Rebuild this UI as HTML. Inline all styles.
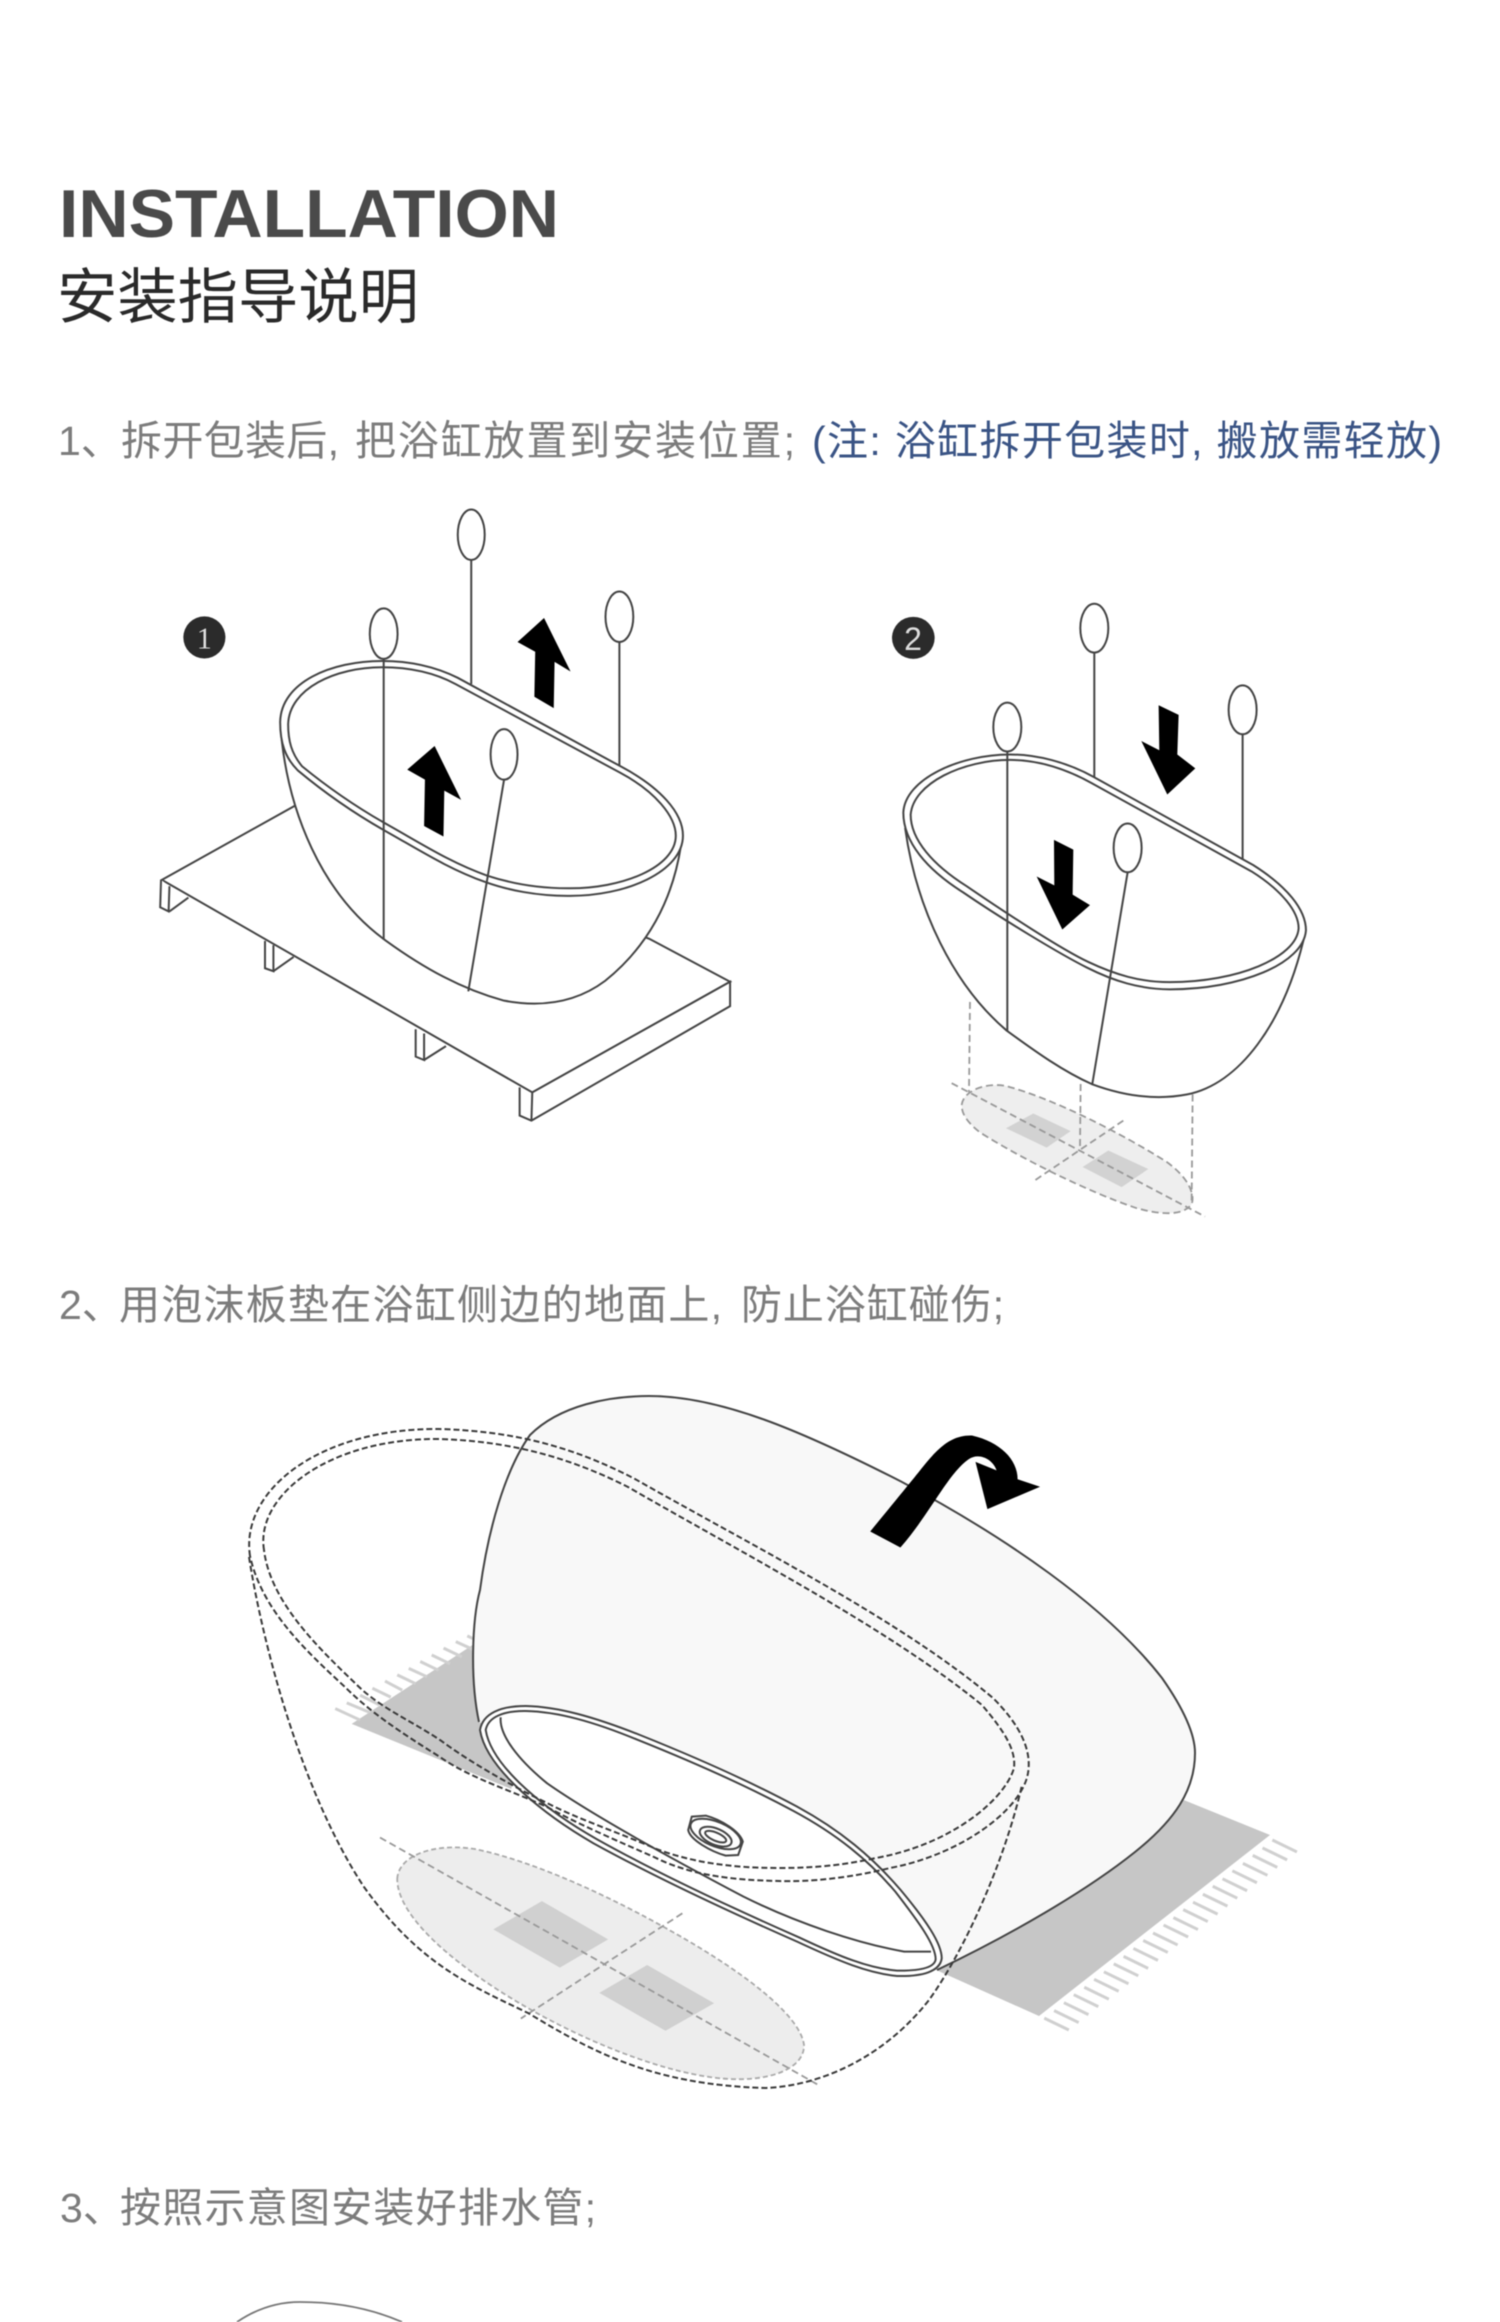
<!DOCTYPE html>
<html><head><meta charset="utf-8">
<style>
html,body{margin:0;padding:0;background:#fff;width:1500px;height:2322px;overflow:hidden}
svg{display:block;filter:blur(.45px)}
text{font-family:"Liberation Sans","Noto Sans CJK SC",sans-serif}
.s{fill:none;stroke:#444;stroke-width:2;vector-effect:non-scaling-stroke}
.w{fill:#fff;stroke:#444;stroke-width:2;vector-effect:non-scaling-stroke}
.d{fill:none;stroke:#3a3a3a;stroke-width:2;stroke-dasharray:6 3;vector-effect:non-scaling-stroke}
.g{fill:none;stroke:#999;stroke-width:1.8;stroke-dasharray:7 4;vector-effect:non-scaling-stroke}
.g2{fill:none;stroke:#aaa;stroke-width:1.8;stroke-dasharray:5 3;vector-effect:non-scaling-stroke}
.f{fill:none;stroke:#d0d0d0;stroke-width:3;vector-effect:non-scaling-stroke}
</style></head><body>
<svg width="1500" height="2322" viewBox="0 0 1500 2322" xmlns="http://www.w3.org/2000/svg">
<rect width="1500" height="2322" fill="#fff"/>
<text x="59" y="237" font-size="68" font-weight="700" fill="#4a4a4a" textLength="500" lengthAdjust="spacingAndGlyphs">INSTALLATION</text>
<text x="57" y="318" font-size="60" fill="#2a2a2a" textLength="362" lengthAdjust="spacingAndGlyphs">安装指导说明</text>

<text x="58" y="455" font-size="41" fill="#7c7c7c">1、</text>
<text x="121" y="455" font-size="41" fill="#7c7c7c" textLength="218">拆开包装后,</text>
<text x="355" y="455" font-size="41" fill="#7c7c7c" textLength="440">把浴缸放置到安装位置;</text>
<text x="812" y="455" font-size="41" fill="#3a5485" textLength="630">(注: 浴缸拆开包装时, 搬放需轻放)</text>

<text x="59" y="1319" font-size="41" fill="#7c7c7c">2、</text>
<text x="119" y="1319" font-size="41" fill="#7c7c7c" textLength="603">用泡沫板垫在浴缸侧边的地面上,</text>
<text x="741" y="1319" font-size="41" fill="#7c7c7c" textLength="263">防止浴缸碰伤;</text>

<text x="60" y="2222" font-size="41" fill="#7c7c7c">3、</text>
<text x="120" y="2222" font-size="41" fill="#7c7c7c" textLength="476">按照示意图安装好排水管;</text>

<!-- Figure 1 -->
<g transform="translate(100 480) scale(.4209)">
<circle cx="248" cy="374" r="50" fill="#2b2b2b"/>
<text x="248" y="400" font-size="72" text-anchor="middle" fill="#ddd" style="font-family:'Liberation Serif',serif">1</text>
<polygon class="w" points="147,950 470,770 1305,1090 1497,1192 1027,1455"/>
<path class="w" d="M145 950L143 1015L163 1025L165 965M165 1025L210 992"/>
<path class="w" d="M392 1095L392 1160L412 1167L412 1105M412 1167L460 1133"/>
<path class="w" d="M750 1305L750 1370L770 1378L770 1315M770 1378L822 1345"/>
<path class="w" d="M997 1443L997 1510L1025 1522L1497 1250L1497 1192L1027 1455L1025 1522"/>
<path class="w" d="M432 620C450 780 520 980 680 1095C770 1160 860 1210 960 1237C1030 1250 1120 1250 1200 1190C1300 1110 1360 1000 1380 870Z"/>
<path class="s" d="M882 190V485M1234 385V680"/>
<path class="w" d="M428 575C430 480 550 430 670 430C740 430 800 445 850 470L1240 682C1330 730 1385 790 1385 845C1385 930 1250 990 1110 988C1040 988 970 975 915 955C830 925 760 880 680 835C600 790 530 740 470 690C440 660 428 625 428 575Z"/>
<path class="s" d="M447 580C450 495 560 445 670 445C735 445 795 458 845 485L1235 695C1320 740 1368 800 1368 845C1368 920 1240 972 1110 970C1040 970 975 958 920 940C835 910 765 865 685 820C605 775 535 725 480 680C455 650 447 620 447 580Z"/>
<path class="s" d="M674 425V1092M960 712L875 1215"/>
<ellipse class="s" cx="882" cy="130" rx="32" ry="60"/>
<ellipse class="s" cx="674" cy="365" rx="33" ry="60"/>
<ellipse class="s" cx="1234" cy="325" rx="33" ry="60"/>
<ellipse class="s" cx="960" cy="652" rx="32" ry="60"/>
<polygon fill="#000" points="1055,328 1118,455 1080,432 1078,542 1032,515 1034,408 992,385"/>
<polygon fill="#000" points="795,632 858,760 818,738 816,847 770,822 772,712 730,688"/>
</g>

<!-- Figure 2 -->
<g transform="translate(820 560) scale(.3333 .4209)">
<ellipse cx="280" cy="185" rx="64" ry="50" fill="#2b2b2b"/>
<path d="M425 1295C430 1260 500 1240 560 1250C700 1280 900 1360 1040 1430C1110 1470 1125 1510 1115 1530C1090 1560 1020 1555 950 1540C800 1500 600 1420 480 1360C440 1335 425 1315 425 1295Z" fill="#eee"/>
<polygon fill="#d2d2d2" points="640,1315 752,1357 680,1396 558,1350"/>
<polygon fill="#d2d2d2" points="865,1403 985,1447 905,1490 788,1442"/>
<path class="g" d="M425 1295C430 1260 500 1240 560 1250C700 1280 900 1360 1040 1430C1110 1470 1125 1510 1115 1530C1090 1560 1020 1555 950 1540C800 1500 600 1420 480 1360C440 1335 425 1315 425 1295Z"/>
<path class="g" d="M395 1243L1155 1560M910 1332L637 1478M450 1050L447 1265M782 1245L780 1400M1118 1270L1115 1525"/>
<path class="w" d="M256 640C290 830 400 1010 560 1118C650 1170 730 1215 815 1245C900 1270 1000 1285 1100 1270C1260 1245 1390 1100 1450 905Z"/>
<path class="s" d="M823 220V518M1268 415V712"/>
<path class="w" d="M250 600C255 520 420 462 570 462C650 462 740 480 820 515L1300 725C1400 775 1458 830 1458 880C1450 960 1260 1020 1050 1020C960 1020 880 1000 800 968C720 936 550 855 430 790C320 735 250 670 250 600Z"/>
<path class="s" d="M272 605C280 530 430 475 570 475C650 475 735 495 815 530L1295 740C1385 785 1436 835 1436 875C1430 945 1250 1003 1050 1003C960 1003 885 985 805 955C725 925 560 840 440 775C340 725 272 665 272 605Z"/>
<path class="s" d="M562 455V1120M923 742L817 1245"/>
<ellipse class="s" cx="823" cy="162" rx="42" ry="58"/>
<ellipse class="s" cx="562" cy="397" rx="42" ry="58"/>
<ellipse class="s" cx="1268" cy="356" rx="42" ry="58"/>
<ellipse class="s" cx="923" cy="684" rx="42" ry="58"/>
<polygon fill="#000" points="1016,345 1076,368 1072,462 1126,495 1042,557 964,430 1018,452"/>
<polygon fill="#000" points="702,665 760,688 758,795 810,820 727,878 650,752 703,773"/>
</g>
<text x="913" y="650" font-size="32" text-anchor="middle" fill="#ddd" style="font-family:'Liberation Sans',sans-serif">2</text>

<!-- Figure 3 -->
<g transform="translate(230 1500) scale(.3827)">
<polygon fill="#c6c6c6" points="318,585 640,375 780,560 735,755"/>
<path class="f" d="M275 545l65 30M305 530l60 25M340 510l50 25M372 492l48 23M405 473l45 24M437 457l48 23M467 440l48 22M497 422l48 23M527 405l48 23M558 387l48 23M590 370l48 22M620 355l25 12"/>
<path d="M437 990C440 930 530 895 640 912C800 945 1000 1040 1150 1125C1320 1220 1490 1340 1500 1425C1500 1490 1400 1525 1270 1510C1100 1490 870 1390 700 1280C560 1190 437 1080 437 990Z" fill="#ededed"/>
<polygon fill="#d0d0d0" points="815,1048 988,1148 862,1222 688,1122"/>
<polygon fill="#d0d0d0" points="1090,1215 1265,1315 1138,1387 965,1288"/>
<path class="g2" d="M437 990C440 930 530 895 640 912C800 945 1000 1040 1150 1125C1320 1220 1490 1340 1500 1425C1500 1490 1400 1525 1270 1510C1100 1490 870 1390 700 1280C560 1190 437 1080 437 990Z"/>
<path class="g" d="M392 882L1540 1530M1182 1080L760 1355"/>
</g>
<polygon fill="#c6c6c6" points="1100,1766 1270,1835 1039,2016 925,1965"/>
<g transform="translate(200 1340) scale(.7018 .4975)">
<path class="f" d="M1528 1005l35 24M1514 1021l35 24M1500 1036l35 24M1486 1052l35 24M1471 1067l35 24M1457 1083l35 24M1443 1098l35 24M1429 1114l35 24M1415 1130l35 24M1401 1145l35 24M1387 1161l35 24M1373 1176l35 24M1358 1192l35 24M1344 1207l35 24M1330 1223l35 24M1316 1239l35 24M1302 1254l35 24M1288 1270l35 24M1274 1285l35 24M1260 1301l35 24M1245 1316l35 24M1231 1332l35 24M1217 1348l35 24M1203 1363l35 24"/>
</g>
<path d="M479 1722C470 1680 472 1620 480 1590C488 1530 505 1470 530 1435C560 1405 610 1396 649 1396C720 1396 800 1430 902 1482C1005 1537 1105 1605 1162 1678C1183 1708 1195 1733 1195 1753C1195 1790 1175 1820 1135 1852C1085 1892 1010 1935 937 1970" fill="#f8f8f8" stroke="#444" stroke-width="2"/>
<g transform="translate(440 1680) scale(.3571 .3333)">
<path class="w" d="M112 150C120 100 170 78 240 78C330 80 430 110 560 165C700 225 870 305 1000 380C1120 450 1210 530 1290 630C1360 720 1405 790 1405 835C1400 875 1350 890 1280 888C1200 880 1120 845 1000 785C820 700 600 590 430 490C300 410 130 270 112 150Z"/>
<path class="s" d="M128 150C135 110 180 92 240 93C330 95 430 125 550 178C690 238 860 318 990 393C1110 462 1200 540 1275 635C1340 725 1388 795 1388 838C1385 865 1340 873 1280 872C1200 865 1120 830 1005 772C825 687 605 577 440 478C310 400 145 265 128 150Z"/>
<path class="s" d="M170 112C165 165 220 240 300 310C420 400 620 520 850 650C1000 730 1170 790 1300 815L1375 815"/>
<path class="s" d="M705 410L745 407C790 420 840 455 848 485L835 525L800 527C760 515 700 480 695 450Z" style="fill:#fff"/>
<ellipse class="s" cx="772" cy="462" rx="76" ry="36" transform="rotate(25 772 462)"/>
<ellipse class="s" cx="772" cy="470" rx="48" ry="24" transform="rotate(25 772 470)"/>
<ellipse class="s" cx="772" cy="470" rx="32" ry="12" transform="rotate(25 772 470)"/>
</g>
<path class="d" d="M250 1556C240 1490 320 1428 439 1429C510 1431 570 1445 635 1479C760 1550 900 1620 993 1698C1020 1725 1032 1750 1028 1773C1022 1810 960 1855 890 1868C850 1878 810 1882 779 1881C730 1880 690 1875 654 1857C620 1842 580 1825 547 1807C510 1790 470 1778 440 1757C400 1732 370 1712 345 1687C305 1650 262 1610 250 1556Z"/>
<path class="d" d="M264 1550C255 1495 330 1438 439 1439C505 1441 565 1455 628 1487C755 1560 890 1630 982 1705C1005 1732 1016 1750 1014 1768C1005 1800 950 1845 876 1858C840 1866 810 1868 779 1868C730 1868 690 1862 654 1848C620 1833 580 1820 547 1803C510 1785 470 1762 440 1740C410 1720 380 1708 356 1684C315 1645 270 1600 264 1550Z"/>
<path class="d" d="M249 1557C262 1640 300 1790 364 1887C420 1965 470 1985 528 2013C590 2050 650 2085 766 2088C830 2085 890 2050 929 2000C965 1950 1005 1860 1022 1785"/>
<g transform="translate(200 1340) scale(.7018 .4975)">
<path fill="#000" d="M955 385L998 417C1040 350 1065 270 1095 240C1110 225 1130 240 1135 262L1105 245L1122 340L1197 295L1165 280C1165 240 1140 205 1100 192C1060 190 1040 240 1010 290C990 325 975 350 955 385Z"/>
</g>
<path d="M237 2322C262 2305 285 2302 300 2302C335 2302 370 2308 402 2322" fill="none" stroke="#777" stroke-width="1.8"/>
</svg>
</body></html>
